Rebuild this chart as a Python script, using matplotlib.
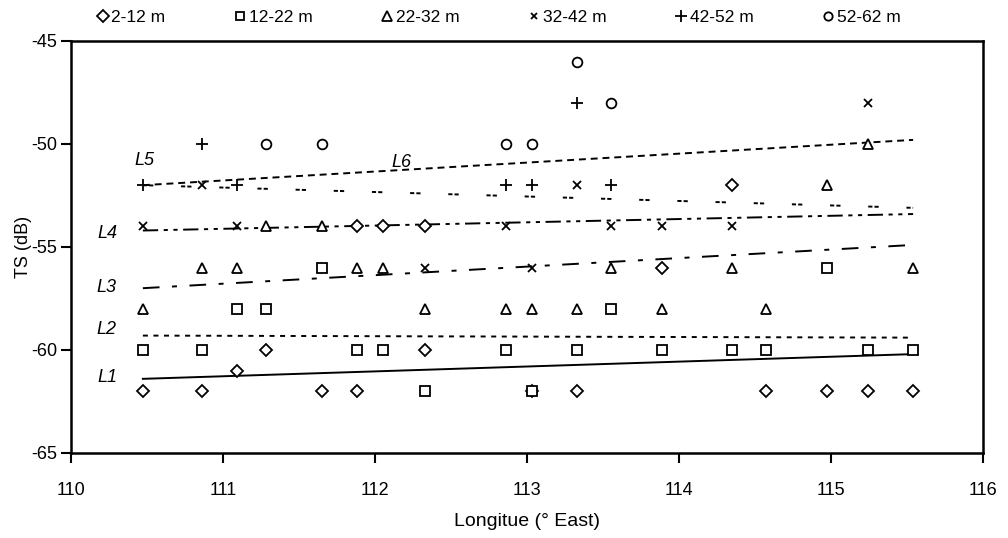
import matplotlib
matplotlib.use("Agg")
import matplotlib.pyplot as plt
from matplotlib.lines import Line2D

plt.rcParams['font.family'] = ['Liberation Sans', 'DejaVu Sans']
plt.rcParams['lines.scale_dashes'] = False
plt.rcParams['axes.unicode_minus'] = False

# ---- data ----
d_x = [110.47, 110.86, 111.09, 111.28, 111.65, 111.88, 111.88, 112.05, 112.33, 112.33,
       113.03, 113.33, 113.89, 114.35, 114.57, 114.97, 115.24, 115.54]
d_y = [-62, -62, -61, -60, -62, -62, -54, -54, -54, -60,
       -62, -62, -56, -52, -62, -62, -62, -62]

s_x = [110.47, 110.86, 111.09, 111.28, 111.65, 111.88, 112.05, 112.33, 112.86, 113.03,
       113.33, 113.55, 113.89, 114.35, 114.57, 114.97, 115.24, 115.54]
s_y = [-60, -60, -58, -58, -56, -60, -60, -62, -60, -62,
       -60, -58, -60, -60, -60, -56, -60, -60]

t_x = [110.47, 110.86, 111.09, 111.28, 111.65, 111.88, 112.05, 112.33, 112.86, 113.03,
       113.33, 113.55, 113.89, 114.35, 114.57, 114.97, 115.24, 115.54]
t_y = [-58, -56, -56, -54, -54, -56, -56, -58, -58, -58,
       -58, -56, -58, -56, -58, -52, -50, -56]

x_x = [110.47, 110.86, 111.09, 112.33, 112.86, 113.03, 113.33, 113.55, 113.89, 114.35, 115.24]
x_y = [-54, -52, -54, -56, -54, -56, -52, -54, -54, -54, -48]

p_x = [110.47, 110.86, 111.09, 112.86, 113.03, 113.33, 113.55]
p_y = [-52, -50, -52, -52, -52, -48, -52]

o_x = [111.28, 111.65, 112.86, 113.03, 113.33, 113.55]
o_y = [-50, -50, -50, -50, -46, -48]

series_labels = ['2-12 m', '12-22 m', '22-32 m', '32-42 m', '42-52 m', '52-62 m']

# trend lines: start/end longitude and TS
line_x = [110.47, 115.54]
line_names = ['L1', 'L2', 'L3', 'L4', 'L5', 'L6']
line_y = {
    'L1': [-61.4, -60.2],
    'L2': [-59.3, -59.4],
    'L3': [-57.0, -54.9],
    'L4': [-54.2, -53.4],
    'L5': [-52.0, -53.1],
    'L6': [-52.0, -49.8],
}
label_pos = {
    'L1': (110.24, -61.35),
    'L2': (110.23, -59.0),
    'L3': (110.23, -56.95),
    'L4': (110.24, -54.35),
    'L5': (110.48, -50.8),
    'L6': (112.17, -50.9),
}

x_ticks = [110, 111, 112, 113, 114, 115, 116]
y_ticks = [-65, -60, -55, -50, -45]

# ---- plot ----
fig = plt.figure(figsize=(10.08, 5.38), dpi=100)
ax = fig.add_axes([0.0709, 0.158, 0.9043, 0.7658])

styles = {
    'L1': dict(linestyle='-'),
    'L2': dict(dashes=(3.6, 4.0)),
    'L3': dict(dashes=(12, 9, 3.6, 9)),
    'L4': dict(dashes=(11, 4, 3, 4, 3, 4)),
    'L5': dict(dashes=(3, 1.5, 3, 20)),
    'L6': dict(dashes=(5, 3.5)),
}
for name in line_names:
    ax.plot(line_x, line_y[name], color='black', lw=1.4, **styles[name], zorder=2)
    lx, ly = label_pos[name]
    ax.text(lx, ly, name, fontsize=13, style='italic', ha='center', va='center')

mk = dict(color='black', linestyle='none', markerfacecolor='white', markeredgewidth=1.3, zorder=3)
ax.plot(d_x, d_y, marker='D', markersize=6.5, **mk)
ax.plot(s_x, s_y, marker='s', markersize=6.5, **mk)
ax.plot(t_x, t_y, marker='^', markersize=7.5, **mk)
ax.plot(x_x, x_y, marker='x', markersize=5.5, **mk)
ax.plot(p_x, p_y, marker='+', markersize=9, **mk)
ax.plot(o_x, o_y, marker='o', markersize=7, **mk)

ax.set_xlim(110, 116)
ax.set_ylim(-65, -45)
ax.set_xticks(x_ticks)
ax.set_yticks(y_ticks)
ax.tick_params(direction='out', length=7, width=1.5, labelsize=13)
ax.tick_params(axis='x', pad=14)
for sp in ax.spines.values():
    sp.set_linewidth(1.8)

ax.set_xlabel('Longitue (° East)', fontsize=14, labelpad=10)
ax.set_ylabel('TS (dB)', fontsize=13)
ax.yaxis.set_label_coords(-0.043, 0.5)

# legend
markers = ['D', 's', '^', 'x', '+', 'o']
sizes = [6, 6, 7, 5, 8, 6]
handles = [Line2D([], [], marker=m, markersize=sz, color='black', linestyle='none',
                  markerfacecolor='white', markeredgewidth=1.3)
           for m, sz in zip(markers, sizes)]
fig.legend(handles, series_labels, loc='center', bbox_to_anchor=(0.495, 0.967), ncol=6,
           frameon=False, fontsize=12.5, handlelength=0.6, handletextpad=0.2,
           columnspacing=4.0)

fig.savefig('out.png', dpi=100)
